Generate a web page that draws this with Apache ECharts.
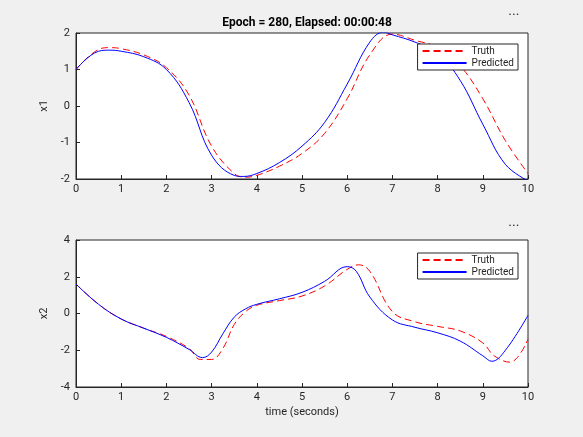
<!DOCTYPE html>
<html><head><meta charset="utf-8">
<script src="https://cdn.jsdelivr.net/npm/echarts@6/dist/echarts.min.js"></script>
<style>html,body{margin:0;background:#f0f0f0}#c{width:583px;height:437px}</style>
</head><body><div id="c"></div>
<script>
// x1 数据
let x1TruthT = [0, 0.5, 0.75, 1, 1.5, 2, 2.5, 3, 3.5, 3.75, 4, 4.5, 5, 5.5, 6, 6.5, 7, 7.5, 8, 8.5, 9, 9.5, 10];
let x1Truth = [1.0, 1.55, 1.6, 1.57, 1.4, 1.05, 0.3, -1.1, -1.85, -1.95, -1.9, -1.65, -1.3, -0.75, 0.2, 1.4, 1.97, 1.8, 1.6, 1.1, 0.2, -0.95, -1.85];
let x1PredT = [0, 0.5, 0.75, 1, 1.5, 2, 2.5, 3, 3.5, 3.7, 4, 4.5, 5, 5.5, 6, 6.5, 6.8, 7, 7.5, 8, 8.5, 9, 9.5, 10];
let x1Pred = [1.0, 1.5, 1.53, 1.5, 1.35, 1.0, 0.1, -1.35, -1.9, -1.93, -1.85, -1.55, -1.1, -0.45, 0.6, 1.75, 2.02, 1.95, 1.75, 1.45, 0.7, -0.5, -1.6, -2.05];
// x2 数据
let x2TruthT = [0, 0.5, 1, 1.5, 2, 2.5, 2.75, 3, 3.25, 3.5, 3.75, 4, 4.5, 5, 5.5, 6, 6.25, 6.5, 7, 7.5, 8, 8.5, 9, 9.25, 9.6, 10];
let x2Truth = [1.6, 0.5, -0.3, -0.8, -1.25, -1.9, -2.5, -2.5, -1.9, -0.6, 0.1, 0.45, 0.7, 0.95, 1.5, 2.4, 2.65, 2.3, 0.1, -0.45, -0.7, -0.95, -1.6, -2.3, -2.65, -1.4];
let x2PredT = [0, 0.5, 1, 1.5, 2, 2.5, 2.8, 3, 3.25, 3.5, 3.75, 4, 4.5, 5, 5.5, 6, 6.2, 6.5, 7, 7.5, 8, 8.5, 9, 9.2, 9.5, 10];
let x2Pred = [1.6, 0.5, -0.3, -0.8, -1.3, -1.95, -2.4, -2.1, -1.1, -0.2, 0.25, 0.5, 0.8, 1.15, 1.75, 2.55, 2.3, 0.9, -0.35, -0.75, -1.05, -1.5, -2.3, -2.6, -2.0, -0.1];

let zip = (t, v) => t.map((x, i) => [x, v[i]]);
let chart = echarts.init(document.getElementById('c'));
let txt = { color: '#262626', fontSize: 11, fontFamily: 'Roboto' };
let xAx = (g, name) => ({
  type: 'value', gridIndex: g, min: 0, max: 10, interval: 1,
  name: name, nameLocation: 'middle', nameGap: 20, nameTextStyle: txt,
  axisLine: { onZero: false, lineStyle: { color: '#262626' } },
  axisTick: { inside: true, length: 4, lineStyle: { color: '#262626' } },
  axisLabel: Object.assign({ margin: 5 }, txt), splitLine: { show: false }
});
let yAx = (g, min, max, step, name) => ({
  type: 'value', gridIndex: g, min: min, max: max, interval: step,
  name: name, nameLocation: 'middle', nameGap: 24, nameTextStyle: txt,
  axisLine: { onZero: false, lineStyle: { color: '#262626' } },
  axisTick: { inside: true, length: 4, lineStyle: { color: '#262626' } },
  axisLabel: Object.assign({ margin: 6 }, txt), splitLine: { show: false }
});
let line = (name, data, g, color, dashed) => ({
  name: name, type: 'line', xAxisIndex: g, yAxisIndex: g, data: data, smooth: 0.4,
  showSymbol: false, symbol: 'none', lineStyle: { color: color, width: 1, type: dashed ? [7, 4] : 'solid' },
  itemStyle: { color: color }
});
let leg = (top) => ({
  top: top, right: 65, orient: 'vertical', itemWidth: 44, itemHeight: 8, itemGap: 2,
  backgroundColor: '#fff', borderColor: '#262626', borderWidth: 1, borderRadius: 0, padding: [2, 4],
  textStyle: { color: '#262626', fontSize: 10, fontFamily: 'Roboto' },
  itemStyle: { opacity: 0 },
  data: ['Truth', 'Predicted']
});
chart.setOption({
  backgroundColor: '#f0f0f0',
  animation: false,
  title: { text: 'Epoch = 280, Elapsed: 00:00:48', left: 302, top: 12, textAlign: 'center',
    textStyle: { color: '#000', fontSize: 12, fontWeight: 'bold', fontFamily: 'Roboto' } },
  grid: [
    { left: 76, right: 55, top: 33, height: 146, show: true, backgroundColor: '#fff', borderColor: '#262626' },
    { left: 76, right: 55, top: 240, height: 147, show: true, backgroundColor: '#fff', borderColor: '#262626' }
  ],
  legend: [leg(44), leg(253)],
  xAxis: [xAx(0, ''), xAx(1, 'time (seconds)')],
  yAxis: [yAx(0, -2, 2, 1, 'x1'), yAx(1, -4, 4, 2, 'x2')],
  series: [
    line('Truth', zip(x1TruthT, x1Truth), 0, '#ff0000', true),
    line('Predicted', zip(x1PredT, x1Pred), 0, '#0000ff', false),
    line('Truth', zip(x2TruthT, x2Truth), 1, '#ff0000', true),
    line('Predicted', zip(x2PredT, x2Pred), 1, '#0000ff', false)
  ],
  graphic: [
    { type: 'text', left: 509, top: 11, style: { text: '• • •', fill: '#333', fontSize: 6 } },
    { type: 'text', left: 509, top: 222, style: { text: '• • •', fill: '#333', fontSize: 6 } }
  ]
});
</script></body></html>
